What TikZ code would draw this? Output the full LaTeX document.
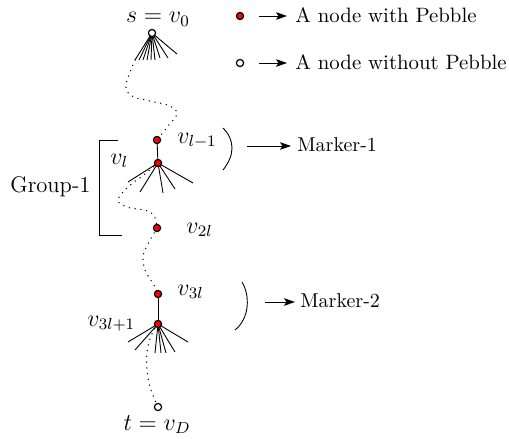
\documentclass[tikz,border=0pt]{standalone}
\usetikzlibrary{arrows.meta,backgrounds}
\begin{document}
\begin{tikzpicture}[x=0.5pt,y=-0.5pt,
  pebble/.style={circle,draw=black,fill=red,line width=0.6pt,minimum size=3.6pt,inner sep=0pt},
  plain/.style={circle,draw=black,fill=white,line width=0.6pt,minimum size=3.6pt,inner sep=0pt},
  fan/.style={line width=0.45pt},
  walk/.style={line width=0.75pt,dash pattern=on 0pt off 2.9pt,line cap=round},
  lbl/.style={font=\fontsize{12}{14}\selectfont,anchor=base west,inner sep=0pt},
  txt/.style={font=\fontsize{10.4}{12}\selectfont,anchor=base west,inner sep=0pt},
  arr/.style={-{Stealth[length=5.5pt,width=3.8pt,inset=1.2pt]},line width=0.5pt}]
\useasboundingbox (0,0) rectangle (509,439);

% vertices
\node[plain]  (s)   at (152,33) {};
\node[pebble] (vl1) at (157,140) {};
\node[pebble] (vl)  at (158,163) {};
\node[pebble] (v2l) at (157,228) {};
\node[pebble] (v3l) at (158,294) {};
\node[pebble] (v3l1) at (158,324) {};
\node[plain]  (t)   at (158,407) {};

% labels
\node[lbl,anchor=base] (ls) at (158,23) {$s=v_0$};
\node[lbl] (lvl1) at (177,143) {$v_{l-1}$};
\node[lbl] (lvl)  at (110,164) {$v_l$};
\node[lbl] (lv2l) at (186,233) {$v_{2l}$};
\node[lbl] (lv3l) at (177,295) {$v_{3l}$};
\node[lbl] (lv3l1) at (87,326) {$v_{3l+1}$};
\node[lbl,anchor=base] (lt) at (157,430) {$t=v_D$};

% fans and walks (behind the vertices)
\begin{pgfonlayer}{background}
\foreach \x/\y [count=\i] in {135/60,139/60,143/60,147/60,151/60,155/60,160/58,168/58,177/54}{
  \coordinate (sf\i) at (\x,\y);
  \draw[fan] (s.center) -- (sf\i);
}
\foreach \x/\y [count=\i] in {128/182,140/192,163/193,175/189,193/183}{
  \coordinate (lf\i) at (\x,\y);
  \draw[fan] (vl.center) -- (lf\i);
}
\foreach \x/\y [count=\i] in {128/342,135/350,155/353,161/353,166/353,175/352,188/342}{
  \coordinate (mf\i) at (\x,\y);
  \draw[fan] (v3l1.center) -- (mf\i);
}
\draw[fan] (vl1) -- (vl);
\draw[fan] (v3l) -- (v3l1);

\draw[walk] plot[smooth,tension=0.6] coordinates
  {(sf1) (126,85) (132,96) (150,101) (170,106) (177,114) (168,126) (vl1.center)};
\draw[walk] plot[smooth,tension=0.6] coordinates
  {(vl.center) (145,174) (128,187) (118,200) (127,207) (148,211) (155,218) (v2l.center)};
\draw[walk] plot[smooth,tension=0.6] coordinates
  {(v2l.center) (149,242) (143,256) (145,270) (150,279) (155,287) (v3l.center)};
\draw[walk] plot[smooth,tension=0.6] coordinates
  {(v3l1.center) (151,336) (147,352) (147,370) (150,387) (155,400) (t.center)};
\end{pgfonlayer}

% group bracket
\coordinate (gtop) at (118,140);
\coordinate (gbot) at (122,235);
\draw[fan] (gtop) -- (99,140) -- (99,235) -- (gbot);
\node[lbl,font=\fontsize{11.3}{13}\selectfont] (g1) at (10,192) {Group-1};

% markers
\coordinate (m1a) at (223,128);
\coordinate (m1b) at (223,170);
\draw[fan] (m1a) .. controls (235,140) and (235,155) .. (m1b);
\coordinate (m1s) at (247,146);
\node[txt,font=\fontsize{10}{12}\selectfont] (mk1) at (297,151) {Marker-1};
\draw[arr] (m1s) -- ([xshift=-3pt]mk1.west |- m1s);

\coordinate (m2a) at (242,282);
\coordinate (m2b) at (235,330);
\draw[fan] (m2a) .. controls (250,295) and (250,318) .. (m2b);
\coordinate (m2s) at (265,302);
\node[txt,font=\fontsize{10}{12}\selectfont] (mk2) at (300,307) {Marker-2};
\draw[arr] (m2s) -- ([xshift=-2.5pt]mk2.west |- m2s);

% legend
\node[pebble] (leg1) at (240,16) {};
\node[plain]  (leg2) at (240,63) {};
\node[txt] (lt1) at (295,22) {A node with Pebble};
\node[txt] (lt2) at (295,69) {A node without Pebble};
\coordinate (la1) at (259,16);
\coordinate (la2) at (259,63);
\draw[arr] (la1) -- ([xshift=-4pt]lt1.west |- la1);
\draw[arr] (la2) -- ([xshift=-4pt]lt2.west |- la2);
\end{tikzpicture}
\end{document}
